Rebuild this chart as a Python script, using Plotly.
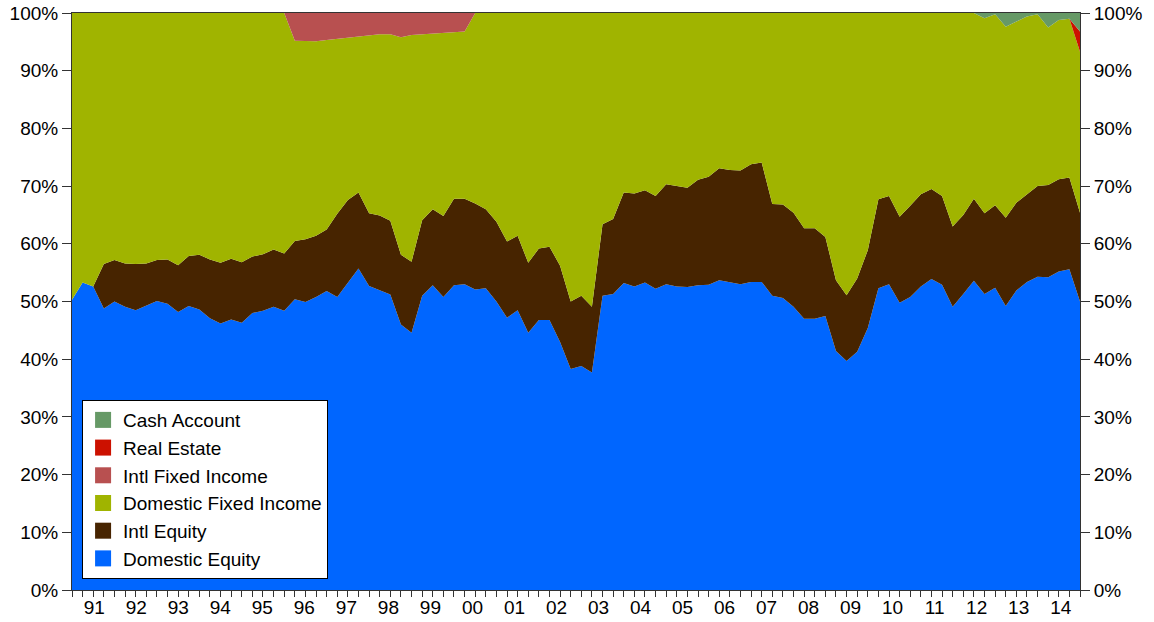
import plotly.graph_objects as go

# quarterly allocation shares (%), one value per quarter-end, late 1990 -> 2014
dom_equity = [50.3, 53.3, 52.6, 48.8, 50.0, 49.1, 48.5, 49.3, 50.1, 49.6,
              48.2, 49.2, 48.6, 47.1, 46.2, 46.9, 46.3, 48.0, 48.4, 49.1,
              48.4, 50.4, 49.9, 50.8, 51.8, 50.8, 53.3, 55.7, 52.7, 51.9,
              51.2, 46.0, 44.6, 51.0, 52.8, 50.8, 52.8, 53.0, 52.1, 52.3,
              50.0, 47.2, 48.5, 44.6, 46.8, 46.8, 43.0, 38.3, 38.8, 37.7,
              51.0, 51.3, 53.2, 52.6, 53.3, 52.2, 53.0, 52.6, 52.5, 52.8,
              52.9, 53.7, 53.4, 53.0, 53.4, 53.4, 51.0, 50.6, 49.1, 47.0,
              47.0, 47.5, 41.4, 39.7, 41.3, 45.4, 52.3, 53.0, 49.8, 50.8,
              52.6, 53.9, 52.9, 49.1, 51.3, 53.6, 51.3, 52.4, 49.2, 51.9,
              53.4, 54.3, 54.2, 55.2, 55.6, 50.0]

intl_equity = [0.0, 0.0, 0.0, 7.7, 7.2, 7.5, 8.0, 7.3, 7.1, 7.7,
               8.1, 8.7, 9.5, 10.2, 10.5, 10.5, 10.5, 9.8, 9.8, 9.9,
               9.9, 10.1, 10.9, 10.6, 10.7, 14.4, 14.3, 13.2, 12.6, 13.0,
               12.8, 12.1, 12.3, 13.1, 13.2, 14.0, 15.0, 14.8, 14.9, 13.7,
               13.8, 13.2, 12.9, 12.1, 12.4, 12.7, 13.2, 11.7, 12.2, 11.4,
               12.4, 13.0, 15.7, 16.1, 16.0, 16.1, 17.3, 17.4, 17.2, 18.3,
               18.7, 19.4, 19.4, 19.7, 20.4, 20.7, 15.9, 16.2, 16.3, 15.7,
               15.7, 13.7, 12.3, 11.4, 12.7, 13.5, 15.4, 15.3, 14.9, 15.8,
               16.0, 15.6, 15.4, 13.9, 13.7, 14.2, 14.0, 14.3, 15.3, 15.2,
               15.1, 15.7, 16.0, 16.0, 15.9, 15.4]

dom_fixed = [49.7, 46.7, 47.4, 43.5, 42.8, 43.4, 43.5, 43.4, 42.8, 42.7,
             43.7, 42.1, 41.9, 42.7, 43.3, 42.6, 43.2, 42.2, 41.8, 41.0,
             41.7, 34.7, 34.3, 33.7, 32.8, 30.3, 28.1, 27.1, 30.9, 31.4,
             32.3, 37.7, 39.3, 32.2, 30.4, 31.8, 28.9, 29.0, 33.0, 34.0,
             36.2, 39.6, 38.6, 43.3, 40.8, 40.5, 43.8, 50.0, 49.0, 50.9,
             36.6, 35.7, 31.1, 31.3, 30.7, 31.7, 29.7, 30.0, 30.3, 28.9,
             28.4, 26.9, 27.2, 27.3, 26.2, 25.9, 33.1, 33.2, 34.6, 37.3,
             37.3, 38.8, 46.3, 48.9, 46.0, 41.1, 32.3, 31.7, 35.3, 33.4,
             31.4, 30.5, 31.7, 37.0, 35.0, 32.2, 33.8, 33.1, 33.1, 31.4,
             30.9, 29.8, 27.3, 27.6, 27.5, 27.9]

intl_fixed = [0.0] * 21 + [4.8, 4.9, 4.9, 4.7, 4.5, 4.3, 4.0, 3.8, 3.7, 3.7,
                           4.2, 3.8, 3.7, 3.6, 3.4, 3.3, 3.2] + [0.0] * 58

real_estate = [0.0] * 95 + [3.5]

cash = [0.0] * 86 + [0.9, 0.2, 2.4, 1.5, 0.6, 0.2, 2.5, 1.2, 1.0, 3.2]

year_labels = ["91", "92", "93", "94", "95", "96", "97", "98", "99", "00",
               "01", "02", "03", "04", "05", "06", "07", "08", "09", "10",
               "11", "12", "13", "14"]

quarters = list(range(len(dom_equity)))

series = [
    ("Domestic Equity", dom_equity, "#0066FF"),
    ("Intl Equity", intl_equity, "#472400"),
    ("Domestic Fixed Income", dom_fixed, "#A0B400"),
    ("Intl Fixed Income", intl_fixed, "#B85050"),
    ("Real Estate", real_estate, "#CC1100"),
    ("Cash Account", cash, "#669966"),
]

fig = go.Figure()
for name, vals, col in series:
    fig.add_trace(go.Scatter(x=quarters, y=vals, name=name, mode="lines",
                             stackgroup="one", line=dict(width=0, color=col),
                             fillcolor=col, showlegend=False))

# square legend swatches (no data drawn), top entry = Cash Account
for name, vals, col in series[::-1]:
    fig.add_trace(go.Scatter(x=[None], y=[None], name=name, mode="markers",
                             marker=dict(symbol="square", size=20, color=col)))

# invisible trace so the right-hand axis gets drawn
fig.add_trace(go.Scatter(x=[0], y=[0], yaxis="y2", mode="markers",
                         marker=dict(opacity=0), showlegend=False, hoverinfo="skip"))

font = dict(family="Liberation Sans, Arial, sans-serif", size=19, color="black")

fig.update_layout(
    width=1154, height=622,
    margin=dict(l=72, r=74, t=13, b=32),
    plot_bgcolor="white", paper_bgcolor="white",
    font=font,
    showlegend=True,
    legend=dict(x=0.01, y=0.019, xanchor="left", yanchor="bottom",
                traceorder="normal", bgcolor="white", bordercolor="black",
                borderwidth=1, font=font, tracegroupgap=0),
    xaxis=dict(range=[0, len(quarters) - 1], showgrid=False, zeroline=False,
               showline=True, linecolor="#333", linewidth=1, mirror=True,
               automargin=False, tickmode="array",
               tickvals=[2.1 + 3.96 * k for k in range(len(year_labels))],
               ticktext=year_labels, ticks="outside", ticklen=0,
               minor=dict(dtick=1, tick0=0, ticks="outside", ticklen=6,
                          tickcolor="#333", showgrid=False),
               tickfont=font, ticklabeloverflow="allow"),
    yaxis=dict(range=[0, 100], dtick=10, ticksuffix="%", showgrid=False,
               zeroline=False, showline=True, linecolor="#333", linewidth=1,
               automargin=False, ticks="outside", ticklen=9, tickcolor="#333",
               tickfont=font, ticklabeloverflow="allow"),
    yaxis2=dict(range=[0, 100], dtick=10, ticksuffix="%", overlaying="y",
                side="right", showgrid=False, zeroline=False, showline=True,
                linecolor="#333", linewidth=1, automargin=False, ticks="outside",
                ticklen=9, tickcolor="#333", tickfont=font,
                ticklabeloverflow="allow"),
)

# drop the default 8px page margin so the figure fills the window exactly
fig.write_html("out.html", config={"displayModeBar": False},
               post_script="document.body.style.margin='0';")
